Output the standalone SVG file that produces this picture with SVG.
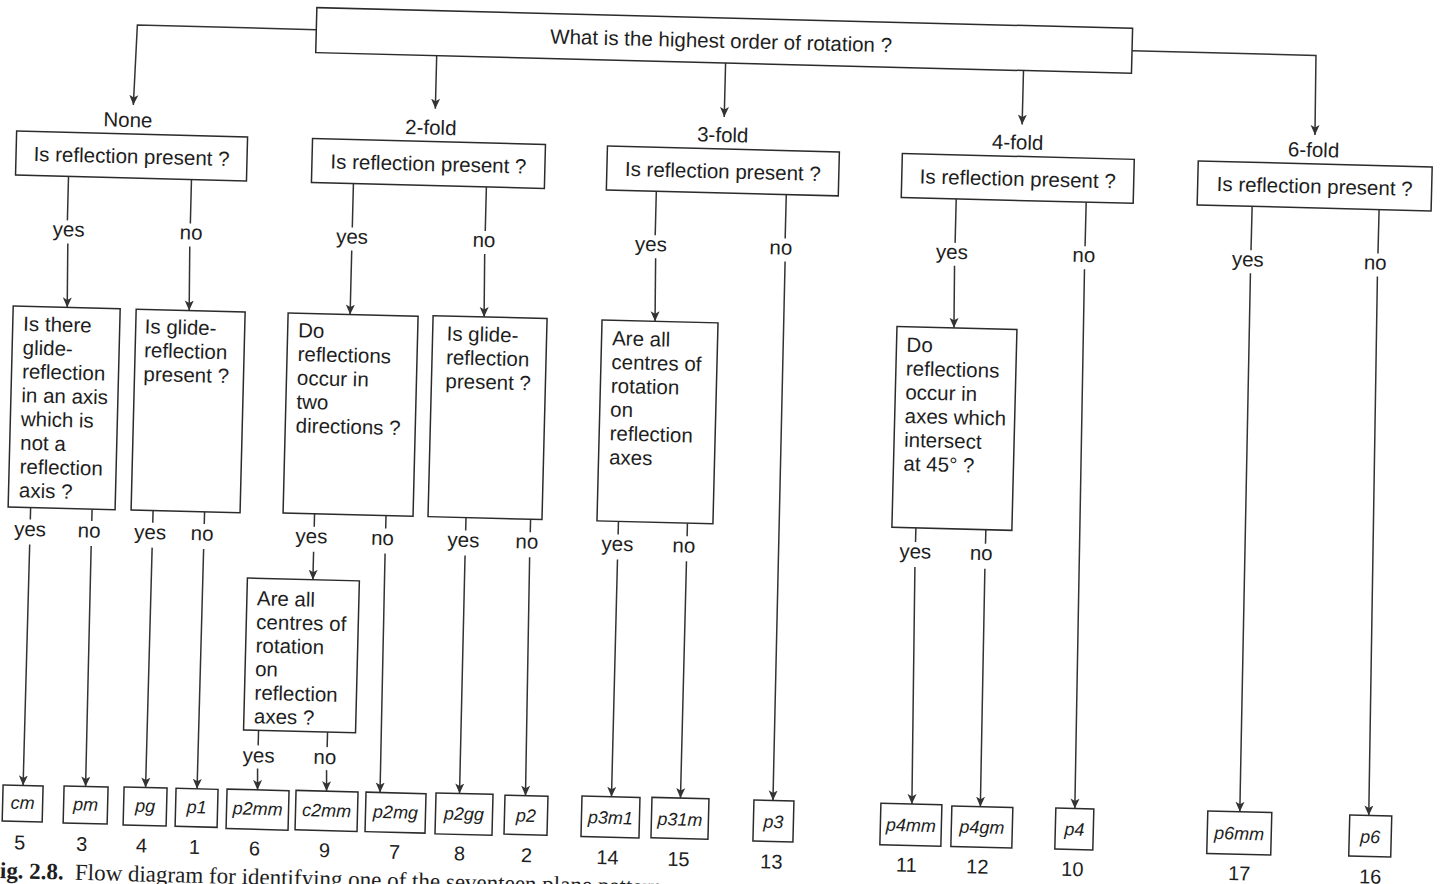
<svg xmlns="http://www.w3.org/2000/svg" width="1442" height="884" viewBox="0 0 1442 884">
<defs>
<style>
.box{fill:#fff;stroke:#2b2b2b;stroke-width:1.5}
.t{font-family:"Liberation Sans",Arial,Helvetica,sans-serif;font-size:20.5px;fill:#1e1e1e}
.c{text-anchor:middle}
.pat{font-style:italic;font-size:18px}
.num{font-size:20px}
.ln{fill:none;stroke:#333;stroke-width:1.5}
.a{marker-end:url(#arr)}
.cap{font-family:"Liberation Serif","Times New Roman",serif;font-size:23px;fill:#1e1e1e}
</style>
<marker id="arr" viewBox="0 0 10 12" refX="10" refY="6" markerWidth="10" markerHeight="12" markerUnits="userSpaceOnUse" orient="auto">
<path d="M0,1.5 L10,6 L0,10.5 L2.5,6 z" fill="#333"/>
</marker>
</defs>
<rect width="1442" height="884" fill="#fff"/>
<g transform="rotate(1.45 721 442)">

<g id="connectors">
<path class="ln a" d="M306,40 H127 L125,120"/>
<path class="ln a" d="M427,63 V116"/>
<path class="ln a" d="M716,63 V117"/>
<path class="ln a" d="M1014,63 V117"/>
<path class="ln a" d="M1122,40.5 H1306 L1307,120"/>
<text class="t c" x="120" y="142">None</text>
<text class="t c" x="423" y="142">2-fold</text>
<text class="t c" x="715" y="142">3-fold</text>
<text class="t c" x="1010" y="142">4-fold</text>
<text class="t c" x="1306" y="142">6-fold</text>

<!-- level 2 yes/no -->
<path class="ln" d="M62,193 V237"/><text class="t c" x="63.5" y="253">yes</text><path class="ln a" d="M63,260 L64,324"/>
<path class="ln" d="M185,193 V237"/><text class="t c" x="186" y="253">no</text><path class="ln a" d="M185,260 L186,324"/>
<path class="ln" d="M347,193 V237"/><text class="t c" x="347" y="253">yes</text><path class="ln a" d="M347,260 L347,324"/>
<path class="ln" d="M480,193 V237"/><text class="t c" x="479" y="253">no</text><path class="ln a" d="M480,260 L481,323"/>
<path class="ln" d="M650,193 V237"/><text class="t c" x="646" y="253">yes</text><path class="ln a" d="M651,260 L652,323"/>
<path class="ln" d="M780,193 V237"/><text class="t c" x="776" y="253">no</text><path class="ln a" d="M780.5,260 L782,799"/>
<path class="ln" d="M950,193 V237"/><text class="t c" x="947" y="253">yes</text><path class="ln a" d="M950,260 L951,322"/>
<path class="ln" d="M1080,193 V237"/><text class="t c" x="1079" y="253">no</text><path class="ln a" d="M1080,260 L1084,799.5"/>
<path class="ln" d="M1246,193 V237"/><text class="t c" x="1243" y="253">yes</text><path class="ln a" d="M1246,260 L1249,798.5"/>
<path class="ln" d="M1373,193 V237"/><text class="t c" x="1370.5" y="253">no</text><path class="ln a" d="M1373,260 L1378,799"/>

<!-- level 3 yes/no -->
<path class="ln" d="M32.5,525 V537"/><text class="t c" x="32.5" y="553.5">yes</text><path class="ln a" d="M32.5,562 L32,803"/>
<path class="ln" d="M94,525 V537"/><text class="t c" x="91.5" y="553.5">no</text><path class="ln a" d="M94,562 L94.5,802.5"/>
<path class="ln" d="M155,525 V537"/><text class="t c" x="152.7" y="553.5">yes</text><path class="ln a" d="M155,562 L154.5,802"/>
<path class="ln" d="M206.5,525 V537"/><text class="t c" x="204.6" y="553.5">no</text><path class="ln a" d="M206.5,562 L206,802"/>
<path class="ln" d="M316.5,524 V537"/><text class="t c" x="314" y="553.5">yes</text><path class="ln a" d="M316.5,562 L316.5,590"/>
<path class="ln" d="M388,524 V537"/><text class="t c" x="385" y="553.5">no</text><path class="ln a" d="M388,562 L389,801"/>
<path class="ln" d="M468,524 V537"/><text class="t c" x="466" y="553.5">yes</text><path class="ln a" d="M468,562 L468.5,800"/>
<path class="ln" d="M532.6,524 V537"/><text class="t c" x="529.5" y="553.5">no</text><path class="ln a" d="M532.6,562 L534.5,800.5"/>
<path class="ln" d="M620.5,524 V537"/><text class="t c" x="620" y="553.5">yes</text><path class="ln a" d="M620.5,562 L620.5,799.5"/>
<path class="ln" d="M689.5,524 V537"/><text class="t c" x="686.5" y="553.5">no</text><path class="ln a" d="M689.5,562 L689.5,799"/>
<path class="ln" d="M918,523 V537"/><text class="t c" x="918" y="553.5">yes</text><path class="ln a" d="M918,562 L921,799"/>
<path class="ln" d="M988,523 V537"/><text class="t c" x="984" y="553.5">no</text><path class="ln a" d="M988,562 L989.5,800"/>

<!-- level 4 yes/no -->
<path class="ln" d="M266,742 V757"/><text class="t c" x="266.7" y="774">yes</text><path class="ln a" d="M266,780 L266.5,801.5"/>
<path class="ln" d="M335,742 V757"/><text class="t c" x="333" y="774">no</text><path class="ln a" d="M335,780 L335.5,801"/>
</g>

<g id="q-root">
<rect class="box" x="306" y="18" width="816" height="45"/>
<text class="t c" x="711" y="48">What is the highest order of rotation ?</text>
</g>

<g id="q-none"><rect class="box" x="9" y="149" width="231" height="44"/><text class="t c" x="124.5" y="178.5">Is reflection present ?</text></g>
<g id="q-2fold"><rect class="box" x="305" y="149" width="233" height="44"/><text class="t c" x="421.5" y="178.5">Is reflection present ?</text></g>
<g id="q-3fold"><rect class="box" x="600" y="149" width="232" height="44"/><text class="t c" x="716" y="178.5">Is reflection present ?</text></g>
<g id="q-4fold"><rect class="box" x="895" y="149" width="232" height="44"/><text class="t c" x="1011" y="178.5">Is reflection present ?</text></g>
<g id="q-6fold"><rect class="box" x="1191" y="149" width="234" height="44"/><text class="t c" x="1308" y="178.5">Is reflection present ?</text></g>

<g id="q-none-yes">
<rect class="box" x="10" y="324" width="107" height="201"/>
<text class="t" x="20.5" y="348.5"><tspan x="20.5">Is there</tspan><tspan x="20.5" dy="23.8">glide-</tspan><tspan x="20.5" dy="23.8">reflection</tspan><tspan x="20.5" dy="23.8">in an axis</tspan><tspan x="20.5" dy="23.8">which is</tspan><tspan x="20.5" dy="23.8">not a</tspan><tspan x="20.5" dy="23.8">reflection</tspan><tspan x="20.5" dy="23.8">axis ?</tspan></text>
</g>
<g id="q-none-no">
<rect class="box" x="133" y="324" width="109" height="201"/>
<text class="t" x="142" y="348"><tspan x="142">Is glide-</tspan><tspan x="142" dy="23.8">reflection</tspan><tspan x="142" dy="23.8">present ?</tspan></text>
</g>
<g id="q-2fold-yes">
<rect class="box" x="285" y="324" width="130" height="200"/>
<text class="t" x="295.5" y="348"><tspan x="295.5">Do</tspan><tspan x="295.5" dy="23.8">reflections</tspan><tspan x="295.5" dy="23.8">occur in</tspan><tspan x="295.5" dy="23.8">two</tspan><tspan x="295.5" dy="23.8">directions ?</tspan></text>
</g>
<g id="q-2fold-no">
<rect class="box" x="430" y="323" width="114" height="201"/>
<text class="t" x="444" y="347.5"><tspan x="444">Is glide-</tspan><tspan x="444" dy="23.8">reflection</tspan><tspan x="444" dy="23.8">present ?</tspan></text>
</g>
<g id="q-3fold-yes">
<rect class="box" x="599" y="323" width="116" height="201"/>
<text class="t" x="609.5" y="348"><tspan x="609.5">Are all</tspan><tspan x="609.5" dy="23.8">centres of</tspan><tspan x="609.5" dy="23.8">rotation</tspan><tspan x="609.5" dy="23.8">on</tspan><tspan x="609.5" dy="23.8">reflection</tspan><tspan x="609.5" dy="23.8">axes</tspan></text>
</g>
<g id="q-4fold-yes">
<rect class="box" x="894" y="322" width="120" height="201"/>
<text class="t" x="904" y="347"><tspan x="904">Do</tspan><tspan x="904" dy="23.8">reflections</tspan><tspan x="904" dy="23.8">occur in</tspan><tspan x="904" dy="23.8">axes which</tspan><tspan x="904" dy="23.8">intersect</tspan><tspan x="904" dy="23.8">at 45° ?</tspan></text>
</g>
<g id="q-2fold-yes-yes">
<rect class="box" x="251" y="590" width="112" height="152"/>
<text class="t" x="261" y="617"><tspan x="261">Are all</tspan><tspan x="261" dy="23.6">centres of</tspan><tspan x="261" dy="23.6">rotation</tspan><tspan x="261" dy="23.6">on</tspan><tspan x="261" dy="23.6">reflection</tspan><tspan x="261" dy="23.6">axes ?</tspan></text>
</g>

<g id="r-cm"><rect class="box" x="12" y="803" width="40" height="36"/><text class="t c pat" x="32" y="826.5">cm</text><text class="t c num" x="30" y="867">5</text></g>
<g id="r-pm"><rect class="box" x="73" y="802.5" width="44" height="37"/><text class="t c pat" x="95" y="826.5">pm</text><text class="t c num" x="92" y="867">3</text></g>
<g id="r-pg"><rect class="box" x="133" y="802" width="43" height="38"/><text class="t c pat" x="154.5" y="826.5">pg</text><text class="t c num" x="152" y="867">4</text></g>
<g id="r-p1"><rect class="box" x="185" y="802" width="42" height="38"/><text class="t c pat" x="206" y="826.5">p1</text><text class="t c num" x="205" y="867">1</text></g>
<g id="r-p2mm"><rect class="box" x="236" y="801.5" width="62" height="39.5"/><text class="t c pat" x="267" y="826.5">p2mm</text><text class="t c num" x="265" y="867">6</text></g>
<g id="r-c2mm"><rect class="box" x="305" y="801" width="62" height="39.5"/><text class="t c pat" x="336" y="826.5">c2mm</text><text class="t c num" x="335" y="867">9</text></g>
<g id="r-p2mg"><rect class="box" x="375" y="801" width="60" height="39.5"/><text class="t c pat" x="405" y="826.5">p2mg</text><text class="t c num" x="405" y="867">7</text></g>
<g id="r-p2gg"><rect class="box" x="445" y="800" width="57" height="41"/><text class="t c pat" x="473.5" y="826.5">p2gg</text><text class="t c num" x="470" y="867">8</text></g>
<g id="r-p2"><rect class="box" x="514" y="800.5" width="43" height="39"/><text class="t c pat" x="535.5" y="826.5">p2</text><text class="t c num" x="537" y="867">2</text></g>
<g id="r-p3m1"><rect class="box" x="591" y="799.5" width="58" height="40.5"/><text class="t c pat" x="620" y="826.5">p3m1</text><text class="t c num" x="618" y="867">14</text></g>
<g id="r-p31m"><rect class="box" x="661" y="799" width="57" height="40.5"/><text class="t c pat" x="689.5" y="826.5">p31m</text><text class="t c num" x="689" y="867">15</text></g>
<g id="r-p3"><rect class="box" x="763" y="799" width="40" height="41"/><text class="t c pat" x="783" y="826.5">p3</text><text class="t c num" x="782" y="867">13</text></g>
<g id="r-p4mm"><rect class="box" x="890" y="799" width="61" height="41.5"/><text class="t c pat" x="920.5" y="826.5">p4mm</text><text class="t c num" x="917" y="867">11</text></g>
<g id="r-p4gm"><rect class="box" x="961" y="800" width="61" height="40.5"/><text class="t c pat" x="991.5" y="826.5">p4gm</text><text class="t c num" x="988" y="867">12</text></g>
<g id="r-p4"><rect class="box" x="1065" y="799.5" width="38" height="41"/><text class="t c pat" x="1084" y="826.5">p4</text><text class="t c num" x="1083" y="867">10</text></g>
<g id="r-p6mm"><rect class="box" x="1217" y="798.5" width="64" height="42.5"/><text class="t c pat" x="1249" y="826.5">p6mm</text><text class="t c num" x="1250" y="867">17</text></g>
<g id="r-p6"><rect class="box" x="1359" y="799" width="42" height="41"/><text class="t c pat" x="1380" y="826.5">p6</text><text class="t c num" x="1381" y="867">16</text></g>

<g id="caption">
<text class="cap" x="11" y="896" font-weight="bold" font-size="21">ig. 2.8.</text>
<text class="cap" x="86" y="896">Flow diagram for identifying one of the seventeen plane patterns</text>
</g>
</g>
</svg>
